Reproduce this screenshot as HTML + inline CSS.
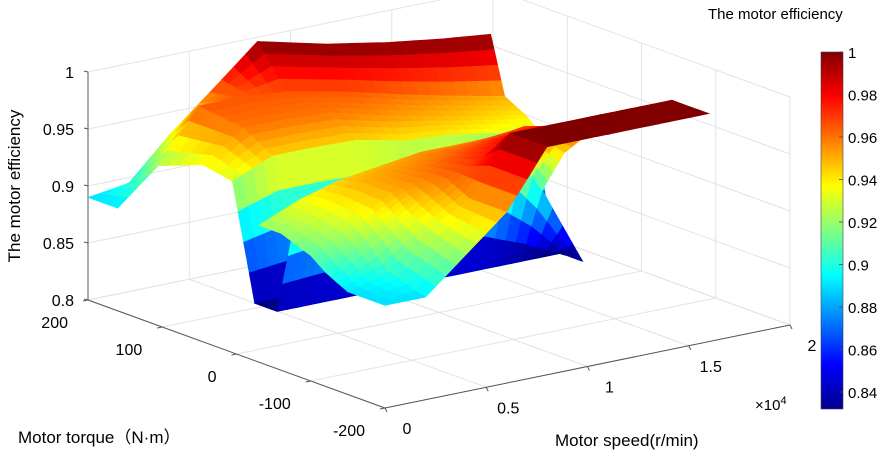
<!DOCTYPE html>
<html><head><meta charset="utf-8"><style>
html,body{margin:0;padding:0;background:#fff;}
svg{display:block;font-family:"Liberation Sans",Arial,sans-serif;}
</style></head><body>
<svg id="chart" width="896" height="456" viewBox="0 0 896 456" xmlns="http://www.w3.org/2000/svg">
<defs>
<linearGradient id="jet" x1="0" y1="1" x2="0" y2="0">
<stop offset="0" stop-color="#00008f"/><stop offset="0.125" stop-color="#0000ff"/><stop offset="0.375" stop-color="#00ffff"/><stop offset="0.625" stop-color="#ffff00"/><stop offset="0.875" stop-color="#ff0000"/><stop offset="1" stop-color="#800000"/>
</linearGradient>
</defs>
<g id="grid"></g>
<g id="axes"></g>
<g id="surface"></g>
<text transform="translate(20,186) rotate(-90)" text-anchor="middle" font-size="17">The motor efficiency</text>
<text x="18" y="443" font-size="17" font-family="'Liberation Sans','Noto Sans CJK SC',sans-serif">Motor torque（N·m）</text>
<text x="555" y="446" font-size="17">Motor speed(r/min)</text>
<text x="755" y="410" font-size="15">×10<tspan dy="-6" font-size="11">4</tspan></text>
<text x="708" y="19" font-size="15">The motor efficiency</text>
<rect x="821" y="52" width="22" height="357" fill="url(#jet)" stroke="#444" stroke-width="0.6"/>
<g id="cbticks"></g>
</svg>
<script>
const speeds=[0,2000,4000,6000,8000,10000,12000,14000,16000];
const torqueLimit=[200,200,200,200,190,150,125,107,94];
const torqueFractions=[1,0.8,0.5,0.3,0.15,0,-0.15,-0.3,-0.5,-0.6,-0.75,-1];
const efficiency=[
[0.89,0.895,0.93,0.96,1.00,1.00,1.00,1.00,1.00],
[0.89,0.92,0.965,0.965,0.965,0.965,0.96,0.955,0.95],
[null,0.935,0.96,0.96,0.96,0.955,0.95,0.945,0.94],
[null,0.93,0.945,0.945,0.945,0.94,0.94,0.935,0.93],
[null,0.83,0.83,0.83,0.83,0.83,0.83,0.83,0.83],
[null,0.83,0.83,0.83,0.83,0.83,0.83,0.83,0.83],
[0.92,0.935,0.945,0.95,0.955,0.955,0.955,0.90,0.83],
[0.92,0.935,0.95,0.955,0.96,0.965,0.97,0.94,null],
[0.91,0.93,0.95,0.96,0.97,0.98,0.98,0.97,null],
[0.90,0.92,0.94,0.96,0.975,0.98,0.98,0.97,null],
[0.89,0.90,0.93,0.95,1.00,1.00,1.00,1.00,1.00],
[0.89,0.89,0.92,0.95,1.00,1.00,1.00,1.00,1.00]];
const zTicks=[0.8,0.85,0.9,0.95,1];
const zTickLabels=["0.8","0.85","0.9","0.95","1"];
const torqueTicks=[200,100,0,-100,-200];
const speedTicks=[0,5000,10000,15000,20000];
const speedTickLabels=["0","0.5","1","1.5","2"];
const cbTicks=[0.84,0.86,0.88,0.9,0.92,0.94,0.96,0.98,1];
const cbTickLabels=["0.84","0.86","0.88","0.9","0.92","0.94","0.96","0.98","1"];
const CMIN=0.832,CMAX=1;
const NS="http://www.w3.org/2000/svg";
function px(t,s){return 88+(200-t)/400*297+s/20000*405;}
function floorY(t,s){return 300+(200-t)/400*108-s/20000*83;}
function py(t,s,z){return floorY(t,s)-(z-0.8)/0.2*228;}
function cbY(v){return 409-(v-CMIN)/(CMAX-CMIN)*357;}
function cl(v){return Math.max(0,Math.min(1,v));}
function jet(v){let x=cl((v-CMIN)/(CMAX-CMIN));
const r=cl(1.5-Math.abs(4*x-3)),g=cl(1.5-Math.abs(4*x-2)),b=cl(1.5-Math.abs(4*x-1));
return `rgb(${Math.round(r*255)},${Math.round(g*255)},${Math.round(b*255)})`;}
function line(parent,x1,y1,x2,y2,stroke,w,name){const l=document.createElementNS(NS,'line');
l.setAttribute('x1',x1);l.setAttribute('y1',y1);l.setAttribute('x2',x2);l.setAttribute('y2',y2);
l.setAttribute('stroke',stroke);l.setAttribute('stroke-width',w);


parent.appendChild(l);}
function txt(parent,x,y,s,size,anchor,name){const e=document.createElementNS(NS,'text');
e.setAttribute('x',x);e.setAttribute('y',y);e.setAttribute('font-size',size);e.setAttribute('text-anchor',anchor);e.textContent=s;


parent.appendChild(e);}
const grid=document.getElementById('grid'),axes=document.getElementById('axes');
const GC='#e3e3e3';
speedTicks.forEach(s=>line(grid,px(200,s),floorY(200,s),px(-200,s),floorY(-200,s),GC,1,'floor-grid-speed'));
torqueTicks.forEach(t=>line(grid,px(t,0),floorY(t,0),px(t,20000),floorY(t,20000),GC,1,'floor-grid-torque'));
zTicks.forEach(z=>line(grid,px(200,0),py(200,0,z),px(200,20000),py(200,20000,z),GC,1,'back-wall-grid-z'));
speedTicks.forEach(s=>line(grid,px(200,s),py(200,s,0.8),px(200,s),py(200,s,1),GC,1,'back-wall-grid-speed'));
zTicks.forEach(z=>line(grid,px(200,20000),py(200,20000,z),px(-200,20000),py(-200,20000,z),GC,1,'side-wall-grid-z'));
torqueTicks.forEach(t=>line(grid,px(t,20000),py(t,20000,0.8),px(t,20000),py(t,20000,1),GC,1,'side-wall-grid-torque'));
const AC='#555';
line(axes,px(200,0),py(200,0,0.8),px(200,0),py(200,0,1),AC,1,'z-axis-line');
line(axes,px(200,0),floorY(200,0),px(-200,0),floorY(-200,0),AC,1,'torque-axis-line');
line(axes,px(-200,0),floorY(-200,0),px(-200,20000),floorY(-200,20000),AC,1,'speed-axis-line');
zTicks.forEach((z,i)=>{const x=px(200,0),y=py(200,0,z);line(axes,x,y,x-4,y-1,AC,1,'z-tick');txt(axes,x-14,y+6,zTickLabels[i],16,'end','z-tick-label');});
torqueTicks.forEach(t=>{const x=px(t,0),y=floorY(t,0);line(axes,x,y,x-5,y+1,AC,1,'torque-tick');txt(axes,x-20,y+28,String(t),16,'end','torque-tick-label');});
speedTicks.forEach((s,i)=>{const x=px(-200,s),y=floorY(-200,s);line(axes,x,y,x+2,y+4,AC,1,'speed-tick');txt(axes,x+22,y+26,speedTickLabels[i],16,'middle','speed-tick-label');});
const surf=document.getElementById('surface');
const polys=[];const N=4;
function tAt(i,j){const u=torqueFractions[i];return u>=0?u*torqueLimit[j]:u*200;}
for(let i=0;i<torqueFractions.length-1;i++)for(let j=0;j<speeds.length-1;j++){
 if(efficiency[i][j]===null||efficiency[i][j+1]===null||efficiency[i+1][j]===null||efficiency[i+1][j+1]===null)continue;
 for(let a=0;a<N;a++)for(let b=0;b<N;b++){
  const pts=[];let zs=0,fy=0;
  [[a,b],[a+1,b],[a+1,b+1],[a,b+1]].forEach(([aa,bb])=>{
   const fu=aa/N,fs=bb/N;
   const t=(1-fu)*((1-fs)*tAt(i,j)+fs*tAt(i,j+1))+fu*((1-fs)*tAt(i+1,j)+fs*tAt(i+1,j+1));
   const s=speeds[j]+(speeds[j+1]-speeds[j])*fs;
   const z=(1-fu)*((1-fs)*efficiency[i][j]+fs*efficiency[i][j+1])+fu*((1-fs)*efficiency[i+1][j]+fs*efficiency[i+1][j+1]);
   pts.push([px(t,s),py(t,s,z)]);zs+=z;fy+=floorY(t,s);
  });
  polys.push({pts,z:zs/4,d:fy/4});
 }}
polys.sort((p,q)=>p.d-q.d);
polys.forEach(p=>{const e=document.createElementNS(NS,'polygon');
 e.setAttribute('points',p.pts.map(q=>q[0].toFixed(1)+','+q[1].toFixed(1)).join(' '));
 const c=jet(p.z);e.setAttribute('fill',c);e.setAttribute('stroke',c);e.setAttribute('stroke-width','0.6');
 
 
 surf.appendChild(e);});
const cbt=document.getElementById('cbticks');
cbTicks.forEach((v,i)=>{const y=cbY(v);line(cbt,843,y,839,y,'#444',0.8,'colorbar-tick');txt(cbt,848,y+6,cbTickLabels[i],15,'start','colorbar-tick-label');});
</script>
</body></html>
